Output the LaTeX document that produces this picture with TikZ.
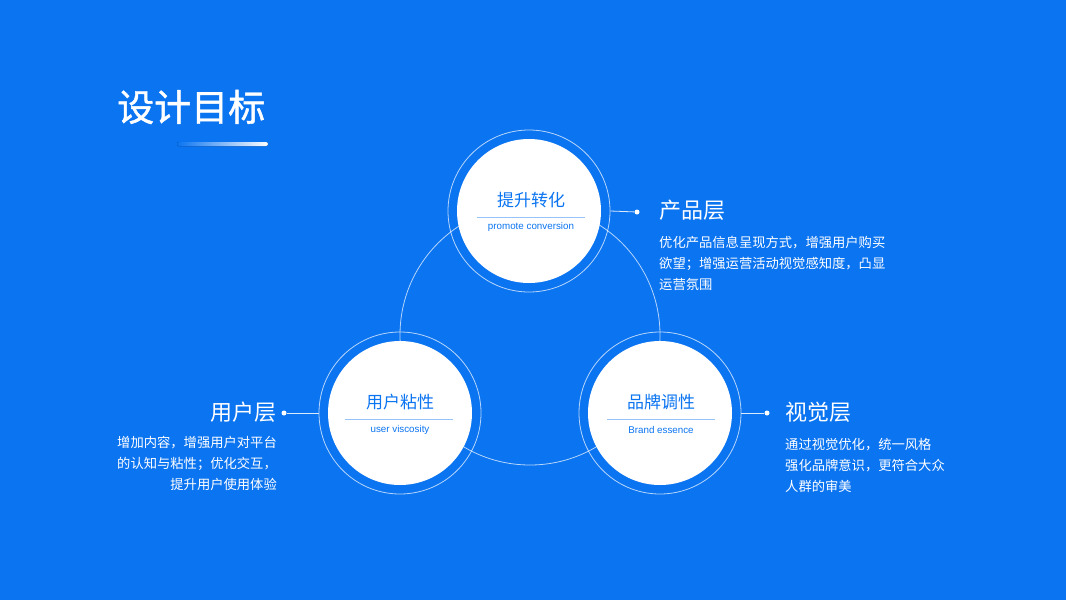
\documentclass[tikz,border=0pt]{standalone}
\usepackage{fontspec}
\setmainfont{Noto Sans CJK SC}
\newfontfamily\titlefont[FakeBold=1.2]{Noto Sans CJK SC}
\newfontfamily\latinfont{Liberation Sans}
\definecolor{bg}{RGB}{11,116,241}
\definecolor{sep}{RGB}{150,196,250}
\tikzset{
  disc/.style={circle,fill=white,minimum size=144pt,inner sep=0pt},
  ring/.style={circle,draw=white,draw opacity=0.7,line width=0.8pt,minimum size=162pt,inner sep=0pt},
  bigring/.style={circle,draw=white,draw opacity=0.7,line width=0.8pt,minimum size=260pt,inner sep=0pt},
  dotmark/.style={circle,fill=white,minimum size=5pt,inner sep=0pt},
  conn/.style={draw=white,draw opacity=0.85,line width=0.8pt},
  cname/.style={text=bg,font=\fontsize{17}{20}\selectfont,inner sep=0pt},
  ename/.style={text=bg,font=\latinfont\fontsize{9.8}{11}\selectfont,inner sep=0pt},
  sepline/.style={draw=sep,line width=1pt},
  layer/.style={text=white,font=\fontsize{22}{26}\selectfont,inner sep=0pt},
  body/.style={text=white,font=\fontsize{13.3}{20.8}\selectfont,inner sep=0pt},
}
\begin{document}
\begin{tikzpicture}[x=1pt,y=-1pt]
\fill[bg] (0,0) rectangle (1066,600);
\useasboundingbox (0,0) rectangle (1066,600);

% title
\node[text=white,font=\titlefont\fontsize{37}{40}\selectfont,anchor=west,inner sep=0pt] (title) at (117,107) {设计目标};
\fill[left color=bg,right color=white,rounded corners=2pt] (177,142) rectangle (268,146);

% big loop
\node[bigring] (loop) at (530,335) {};

% rings
\node[ring] (topring) at (529,211) {};
\node[ring] (leftring) at (400,413) {};
\node[ring] (rightring) at (660,413) {};

% dots and connectors
\node[dotmark] (topdot) at (637,212) {};
\node[dotmark] (leftdot) at (284,413) {};
\node[dotmark] (rightdot) at (767,413) {};
\draw[conn] (topring.east) -- (topdot);
\draw[conn] (leftdot) -- (leftring.west);
\draw[conn] (rightring.east) -- (rightdot);

% discs
\node[disc] (top) at (529,211) {};
\node[disc] (left) at (400,413) {};
\node[disc] (right) at (660,413) {};

% disc texts
\node[cname] (topcn) at (531,200) {提升转化};
\draw[sepline] (477,217) -- (585,217);
\node[ename] (topen) at (531,226.5) {promote conversion};

\node[cname] (leftcn) at (400,402) {用户粘性};
\draw[sepline] (345,419) -- (453,419);
\node[ename] (leften) at (400,429.5) {user viscosity};

\node[cname] (rightcn) at (661,402) {品牌调性};
\draw[sepline] (607,419) -- (715,419);
\node[ename] (righten) at (661,429.5) {Brand essence};

% layer texts
\node[layer,anchor=west] (prod) at (659,210) {产品层};
\node[body,anchor=north west,align=left] (prodtxt) at (659,236) {优化产品信息呈现方式，增强用户购买\\欲望；增强运营活动视觉感知度，凸显\\运营氛围};

\node[layer,anchor=west] (vis) at (785,412) {视觉层};
\node[body,anchor=north west,align=left] (vistxt) at (785,438) {通过视觉优化，统一风格\\强化品牌意识，更符合大众\\人群的审美};

\node[layer,anchor=east] (user) at (277,412) {用户层};
\node[body,anchor=north east,align=right] (usertxt) at (277,436) {增加内容，增强用户对平台\\的认知与粘性；优化交互，\\提升用户使用体验};
\end{tikzpicture}
\end{document}
